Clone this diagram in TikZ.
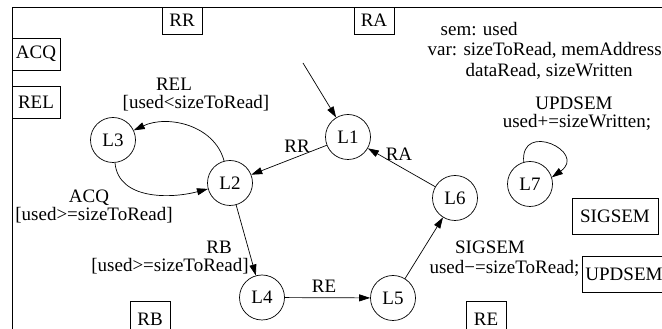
\documentclass[tikz,border=0pt]{standalone}
\usepackage{fontspec}
\setmainfont{Liberation Serif}
\usetikzlibrary{arrows.meta,positioning}

\begin{document}
\begin{tikzpicture}[
    x=1pt,y=1pt,
    every node/.style={font=\fontsize{19}{21.5}\selectfont},
    state/.style={draw=black,circle,minimum size=45pt,inner sep=0pt,line width=0.7pt},
    sigbox/.style={draw=black,rectangle,inner sep=0pt,line width=0.7pt},
    lbl/.style={inner sep=0pt},
    trans/.style={-{Triangle[length=11pt,width=7pt]},line width=0.7pt}
]
    \useasboundingbox (0,0) rectangle (662,329);
    \clip (0,0) rectangle (662,329);

    % process frame
    \draw[line width=0.9pt] (12,-5) -- (12,322) -- (670,322);

    % signal boxes
    \foreach \name/\x/\y/\w/\h in {
        RR/182/308.5/40/27, RA/374/308.5/40/27,
        ACQ/36/275/48/32, REL/36/227/48/32,
        SIGSEM/615/113/86/36, UPDSEM/624/55/84/36,
        RB/150/10/40/36, RE/486/10/40/36} {
        \node[sigbox,minimum width=\w,minimum height=\h] (box-\name) at (\x,\y) {\name};
    }

    % declarations
    \node[lbl,anchor=base west] (decl-sem) at (440.5,293) {sem: used};
    \node[lbl,anchor=base west] (decl-var) at (427.5,273) {var: sizeToRead, memAddress,};
    \node[lbl,anchor=base west] (decl-var2) at (465.5,252) {dataRead, sizeWritten};

    % states
    \foreach \name/\x/\y in {L1/348/192, L2/230/146, L3/113/189,
        L4/262/31.5, L5/393/31, L6/455/131, L7/530/145} {
        \node[state] (\name) at (\x,\y) {\name};
    }
    \coordinate (init) at (303,266);

    % transitions
    \draw[trans] (init) -- (L1);
    \draw[trans] (L1) -- (L2);
    \draw[trans] (L2) to[out=105,in=25] (L3);
    \draw[trans] (L3) to[out=275,in=195] (L2);
    \draw[trans] (L2) -- (L4);
    \draw[trans] (L4) -- (L5);
    \draw[trans] (L5) -- (L6);
    \draw[trans] (L6) -- (L1);
    \draw[trans] (L7.106) .. controls +(95:42) and +(35:44) .. (L7.17);

    % transition labels
    \node[lbl] (rr-name) at (297,183) {RR};
    \node[lbl] (ra-name) at (399,175) {RA};
    \node[lbl] (rel-name) at (174,245) {REL};
    \node[lbl] (rel-guard) at (196,226) {[used<sizeToRead]};
    \node[lbl] (acq-name) at (89,131) {ACQ};
    \node[lbl] (acq-guard) at (94,114) {[used>=sizeToRead]};
    \node[lbl] (rb-name) at (219,82) {RB};
    \node[lbl] (rb-guard) at (170,63) {[used>=sizeToRead]};
    \node[lbl] (re-name) at (324,43) {RE};
    \node[lbl] (sig-name) at (490,82) {SIGSEM};
    \node[lbl] (sig-act) at (504.5,61) {used−=sizeToRead;};
    \node[lbl] (upd-name) at (574,226) {UPDSEM};
    \node[lbl] (upd-act) at (577,207) {used+=sizeWritten;};
\end{tikzpicture}
\end{document}
